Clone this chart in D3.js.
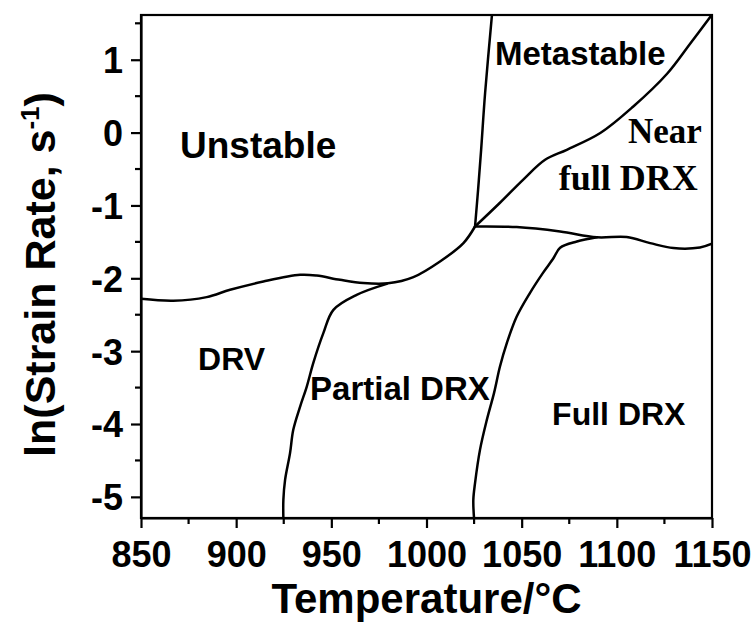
<!DOCTYPE html>
<html><head><meta charset="utf-8">
<script src="https://cdn.jsdelivr.net/npm/d3@7"></script>
<style>body{margin:0;background:#fff}</style>
</head><body>
<svg id="c" width="756" height="625"></svg>
<script>
// ---- data ----
const xTicks = [850, 900, 950, 1000, 1050, 1100, 1150];
const xMinor = [875, 925, 975, 1025, 1075, 1125];
const yTicks = [-5, -4, -3, -2, -1, 0, 1];
const yMinor = [-4.5, -3.5, -2.5, -1.5, -0.5, 0.5, 1.5];

// boundaries: [temperature °C, ln(strain rate)]
const drvUpper = [[850,-2.282],[867,-2.309],[884.5,-2.258],[896.8,-2.158],[914.3,-2.044],[933.6,-1.952],[942.3,-1.962],[954.6,-2.021],[966.8,-2.066],[979.8,-2.069],[993.1,-1.984],[1007.1,-1.769],[1019.4,-1.517],[1025.5,-1.289]];
const unstableRight = [[1025.5,-1.289],[1027.1,-0.785],[1028.7,-0.236],[1030.8,0.547],[1034.4,1.618]];
const metastableLower = [[1025.5,-1.289],[1038.6,-0.963],[1050.7,-0.648],[1062.3,-0.373],[1073.7,-0.236],[1091.3,-0.006],[1108.5,0.355],[1126.4,0.808],[1138.5,1.22],[1150,1.62]];
const nearFullLower = [[1025.5,-1.289],[1047.4,-1.297],[1070.2,-1.358],[1089.5,-1.437],[1105.2,-1.434],[1117.5,-1.517],[1129.7,-1.585],[1143.7,-1.577],[1150,-1.526]];
const fullDrxLeft = [[1089.5,-1.437],[1079.0,-1.495],[1070.2,-1.581],[1066.5,-1.732],[1061.2,-1.925],[1054.4,-2.199],[1047.4,-2.525],[1042.2,-2.890],[1038.6,-3.211],[1035.5,-3.572],[1031.7,-3.943],[1028.1,-4.355],[1025.5,-4.812],[1024.6,-5.041],[1025.0,-5.3]];
const partialLeft = [[979.1,-2.076],[963.3,-2.227],[951.1,-2.433],[945.8,-2.753],[940.5,-3.164],[937.1,-3.486],[933.6,-3.760],[930.0,-4.080],[928.3,-4.400],[925.7,-4.767],[924.8,-5.041],[924.8,-5.3]];
const boundaries = [drvUpper, unstableRight, metastableLower, nearFullLower, fullDrxLeft, partialLeft];

const regionLabels = [
  {text: "Unstable", T: 870.5, v: -0.346, size: 37, serif: false},
  {text: "Metastable", T: 1036.0, v: 0.931, size: 33, serif: false},
  {text: "Near", T: 1105.9, v: -0.140, size: 35, serif: true},
  {text: "full DRX", T: 1069.5, v: -0.785, size: 36, serif: true},
  {text: "DRV", T: 880, v: -3.256, size: 32, serif: false},
  {text: "Partial DRX", T: 938.8, v: -3.668, size: 33, serif: false},
  {text: "Full DRX", T: 1066, v: -4.012, size: 32, serif: false}
];

// ---- layout ----
const L = 141, T0 = 15, R = 712, B = 518;
const sans = "'Liberation Sans', Arial, sans-serif";
const serif = "'Liberation Serif', 'Times New Roman', serif";
const svg = d3.select("#c");
const x = d3.scaleLinear().domain([850, 1150]).range([L, R]);
const y = d3.scaleLinear().domain([-5.29, 1.614]).range([B, T0]);

svg.append("clipPath").attr("id", "clip").append("rect")
  .attr("x", L).attr("y", T0).attr("width", R - L).attr("height", B - T0);

// curves
const line = d3.line().x(d => x(d[0])).y(d => y(d[1])).curve(d3.curveCatmullRom.alpha(0.5));
svg.append("g").attr("clip-path", "url(#clip)")
  .selectAll("path").data(boundaries).join("path")
  .attr("d", line).attr("fill", "none").attr("stroke", "#000").attr("stroke-width", 2.5)
  .attr("stroke-linejoin", "round").attr("stroke-linecap", "round");

// frame
svg.append("rect").attr("x", L).attr("y", T0).attr("width", R - L).attr("height", B - T0)
  .attr("fill", "none").attr("stroke", "#000").attr("stroke-width", 2.2);

// axes
const gx = svg.append("g").attr("transform", `translate(0,${B})`)
  .call(d3.axisBottom(x).tickValues(xTicks).tickSize(10).tickSizeOuter(0).tickPadding(6).tickFormat(d => String(d)));
const gy = svg.append("g").attr("transform", `translate(${L},0)`)
  .call(d3.axisLeft(y).tickValues(yTicks).tickSize(10).tickSizeOuter(0).tickPadding(8).tickFormat(d => String(d)));
[gx, gy].forEach(g => {
  g.select(".domain").attr("stroke-width", 2.2);
  g.selectAll(".tick line").attr("stroke-width", 2.2);
  g.selectAll(".tick text").attr("font-family", sans).attr("font-weight", "bold")
    .attr("font-size", 36).attr("fill", "#000");
});
gx.selectAll(".tick text").attr("dy", null).attr("y", 49);
gy.selectAll(".tick text").attr("dy", "0.36em");

// minor ticks
svg.append("g").selectAll("line").data(xMinor).join("line")
  .attr("x1", d => x(d)).attr("x2", d => x(d)).attr("y1", B).attr("y2", B + 6)
  .attr("stroke", "#000").attr("stroke-width", 2.2);
svg.append("g").selectAll("line").data(yMinor.filter(v => y(v) >= T0)).join("line")
  .attr("y1", d => y(d)).attr("y2", d => y(d)).attr("x1", L).attr("x2", L - 6)
  .attr("stroke", "#000").attr("stroke-width", 2.2);

// axis titles
svg.append("text").attr("x", (L + R) / 2).attr("y", 613).attr("text-anchor", "middle")
  .attr("font-family", sans).attr("font-weight", "bold").attr("font-size", 42)
  .text("Temperature/°C");
const yt = svg.append("text").attr("transform", `translate(55,${(T0 + B) / 2 + 8}) rotate(-90)`)
  .attr("text-anchor", "middle").attr("font-family", sans).attr("font-weight", "bold").attr("font-size", 43);
yt.append("tspan").text("ln(Strain Rate, s");
yt.append("tspan").attr("font-size", 26).attr("dy", -16).text("-1");
yt.append("tspan").attr("dy", 16).text(")");

// region labels
svg.append("g").selectAll("text").data(regionLabels).join("text")
  .attr("x", d => x(d.T)).attr("y", d => y(d.v))
  .attr("font-family", d => d.serif ? serif : sans).attr("font-weight", "bold")
  .attr("font-size", d => d.size).text(d => d.text);
</script>
</body></html>
